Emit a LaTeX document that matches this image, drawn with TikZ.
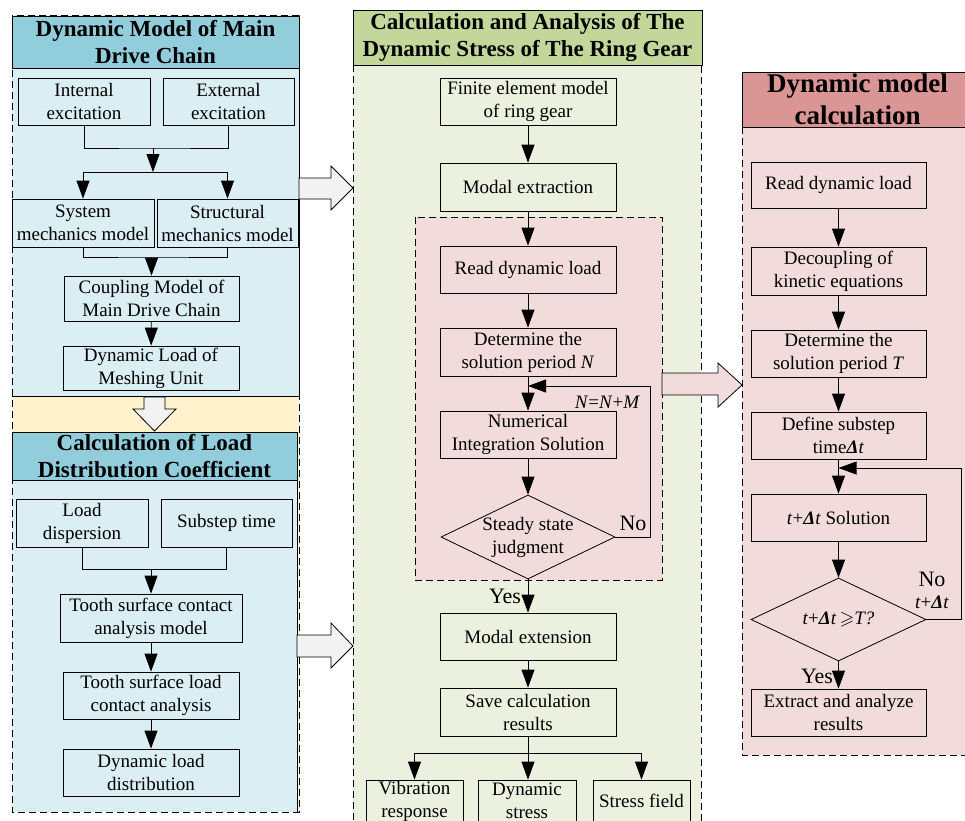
\documentclass[tikz,border=0pt]{standalone}
\usepackage{fontspec}
\setmainfont{Liberation Serif}
\usepackage{amssymb}
\usetikzlibrary{shapes.geometric,arrows.meta}
\definecolor{blueBg}{HTML}{DAEEF3}
\definecolor{blueTitle}{HTML}{92CDDC}
\definecolor{yellowBg}{HTML}{FFF2CC}
\definecolor{greenBg}{HTML}{EBF1DE}
\definecolor{greenTitle}{HTML}{C4D79B}
\definecolor{pinkBg}{HTML}{F2DCDB}
\definecolor{pinkTitle}{HTML}{DA9694}
\definecolor{arrowGray}{HTML}{F2F2F2}
\newcommand{\dlt}{\textbf{\textit{Δ}}}
\begin{document}
\begin{tikzpicture}[x=1pt,y=-1pt,
  box/.style={draw=black, line width=0.8pt, align=center, inner sep=0pt, font=\fontsize{19}{23}\selectfont},
  dia/.style={draw=black, line width=0.8pt, shape=diamond, inner sep=0pt},
  arr/.style={line width=0.8pt, -{Triangle[length=18pt,width=13pt]}},
  ln/.style={line width=0.8pt},
  ttl/.style={draw=black, line width=0.8pt, align=center, inner sep=0pt, font=\bfseries\fontsize{23}{27}\selectfont},
  dsh/.style={dash pattern=on 7pt off 4pt, line width=0.8pt},
  lbl/.style={font=\fontsize{22}{26}\selectfont, inner sep=0pt},
  txt/.style={align=center, inner sep=0pt, font=\fontsize{19}{23}\selectfont},
  blk/.style={line width=0.8pt, draw=black}
  ]
\useasboundingbox (0,0) rectangle (965,820);
\clip (0,0) rectangle (965,820);

% ---------------- left panel ----------------
\fill[yellowBg] (12,15) rectangle (299,812);
\fill[blueBg] (12,16) rectangle (299,396);
\draw[ln] (299,16) -- (299,396) -- (12,396);
\fill[blueBg] (12,480) rectangle (297,812);
\draw[ln] (297,480) -- (297,812);
\draw[dsh] (12,15) rectangle (299,812);
\node[ttl, fill=blueTitle, minimum width=287, minimum height=52] (t1) at (155.5,42) {Dynamic Model of Main\\Drive Chain};
\node[ttl, fill=blueTitle, minimum width=285, minimum height=48] (t2) at (154.5,456) {Calculation of Load\\Distribution Coefficient};

\node[box, fill=blueBg, minimum width=132, minimum height=47] (intexc) at (84,101.5) {Internal\\excitation};
\node[box, fill=blueBg, minimum width=131, minimum height=47] (extexc) at (228.5,101.5) {External\\excitation};
\node[box, fill=blueBg, minimum width=142, minimum height=48] (sysm) at (83,223) {System\\mechanics model};
\node[box, fill=blueBg, minimum width=141, minimum height=48] (strm) at (227.5,223) {Structural\\mechanics model};
\node[box, fill=blueBg, minimum width=175, minimum height=45] (coup) at (151.5,298.5) {Coupling Model of\\Main Drive Chain};
\node[box, fill=blueBg, minimum width=176, minimum height=44] (dynl) at (151,368) {Dynamic Load of\\Meshing Unit};
\node[box, fill=blueBg, minimum width=132, minimum height=48] (ldisp) at (82,523) {Load\\dispersion};
\node[box, fill=blueBg, minimum width=131, minimum height=48] (subst) at (226.5,523) {Substep time};
\node[box, fill=blueBg, minimum width=182, minimum height=48] (tsca) at (151,618) {Tooth surface contact\\analysis model};
\node[box, fill=blueBg, minimum width=176, minimum height=47] (tslca) at (151,695.5) {Tooth surface load\\contact analysis};
\node[box, fill=blueBg, minimum width=176, minimum height=47] (dld) at (151,772.5) {Dynamic load\\distribution};

\coordinate (j1) at (153,148);
\coordinate (j2) at (153,172);
\coordinate (j3) at (151.5,257);
\coordinate (j4) at (151,569);
\draw[ln] (intexc.south) |- (j1) -| (extexc.south);
\draw[arr] (j1) -- (j2);
\draw[arr] (j2) -| (sysm.north);
\draw[arr] (j2) -| (strm.north);
\draw[ln] (sysm.south) |- (j3) -| (strm.south);
\draw[arr] (j3) -- (coup.north);
\draw[arr] (coup) -- (dynl);
\draw[ln] (ldisp.south) |- (j4) -| (subst.south);
\draw[arr] (j4) -- (tsca.north);
\draw[arr] (tsca) -- (tslca);
\draw[arr] (tslca) -- (dld);

% block arrow in yellow band
\draw[blk, fill=arrowGray] (144,397) -- (165,397) -- (165,409) -- (176,409) -- (154.5,431) -- (133,409) -- (144,409) -- cycle;

% ---------------- middle panel ----------------
\fill[greenBg] (353,10) rectangle (701,830);
\draw[dsh] (353,10) rectangle (701,830);
\node[ttl, fill=greenTitle, minimum width=349, minimum height=55] (t3) at (527.5,37.5) {Calculation and Analysis of The\\Dynamic Stress of The Ring Gear};
\draw[dsh, fill=pinkBg] (415,217) rectangle (662,580);

\node[box, fill=greenBg, minimum width=176, minimum height=47] (fem) at (528,101.5) {Finite element model\\of ring gear};
\node[box, fill=greenBg, minimum width=176, minimum height=48] (modx) at (528,187) {Modal extraction};
\node[box, fill=pinkBg, minimum width=176, minimum height=47] (rdl) at (528,269.5) {Read dynamic load};
\node[box, fill=pinkBg, minimum width=176, minimum height=48] (detN) at (528,352) {Determine the\\solution period \textit{N}};
\node[box, fill=pinkBg, minimum width=176, minimum height=47] (numi) at (528,434.5) {Numerical\\Integration Solution};
\node[dia, fill=pinkBg, minimum width=174, minimum height=84] (steady) at (528,537) {};
\node[txt] (steadyt) at (528,537) {Steady state\\judgment};
\node[box, fill=greenBg, minimum width=176, minimum height=47] (mode) at (528,636.5) {Modal extension};
\node[box, fill=greenBg, minimum width=176, minimum height=48] (save) at (528,712) {Save calculation\\results};
\node[box, fill=greenBg, minimum width=97, minimum height=42] (vib) at (414.5,801) {Vibration\\response};
\node[box, fill=greenBg, minimum width=98, minimum height=42] (dyns) at (527,801) {Dynamic\\stress};
\node[box, fill=greenBg, minimum width=97, minimum height=42] (sf) at (641.5,801) {Stress field};

\coordinate (jN) at (528,386);
\coordinate (jS) at (528,753);
\draw[arr] (fem) -- (modx);
\draw[arr] (modx) -- (rdl);
\draw[arr] (rdl) -- (detN);
\draw[arr] (detN) -- (numi);
\draw[arr] (numi) -- (steady.north);
\draw[arr] (steady.east) -- ++(35,0) |- (jN);
\draw[arr] (steady.south) -- (mode.north);
\draw[arr] (mode) -- (save);
\draw[ln] (save.south) -- (jS);
\draw[arr] (jS) -| (vib.north);
\draw[arr] (jS) -- (jS |- dyns.north);
\draw[arr] (jS) -| (sf.north);
\node[txt, font=\itshape\fontsize{19}{23}\selectfont] (nlab) at (607,402) {N\textup{=}N\textup{+}M};
\node[lbl] (nolab) at (633,523) {No};
\node[lbl] (yeslab) at (505,596) {Yes};

% block arrows left -> middle
\draw[blk, fill=arrowGray] (299,178) -- (331,178) -- (331,166) -- (353,188) -- (331,210) -- (331,199) -- (299,199) -- cycle;
\draw[blk, fill=arrowGray] (297,635) -- (331,635) -- (331,623) -- (353,646) -- (331,668) -- (331,657) -- (297,657) -- cycle;
% block arrow middle -> right
\draw[blk, fill=pinkBg] (662,373) -- (718,373) -- (718,363) -- (742,385) -- (718,407) -- (718,395) -- (662,395) -- cycle;

% ---------------- right panel ----------------
\draw[dsh, fill=pinkBg] (742,72) rectangle (985,755);
\node[draw=black, line width=0.8pt, fill=pinkTitle, minimum width=231, minimum height=55, align=center, inner sep=0pt, font=\bfseries\fontsize{27}{32}\selectfont] (t4) at (857.5,99.5) {Dynamic model\\calculation};

\node[box, fill=pinkBg, minimum width=175, minimum height=46] (rdl2) at (838.5,185) {Read dynamic load};
\node[box, fill=pinkBg, minimum width=175, minimum height=48] (dec) at (838.5,271) {Decoupling of\\kinetic equations};
\node[box, fill=pinkBg, minimum width=175, minimum height=47] (detT) at (838.5,353.5) {Determine the\\solution period \textit{T}};
\node[box, fill=pinkBg, minimum width=175, minimum height=47] (defdt) at (838.5,435.5) {Define substep\\time\dlt\textit{t}};
\node[box, fill=pinkBg, minimum width=175, minimum height=47] (tsol) at (838.5,517.5) {\textit{t}+\dlt\textit{t} Solution};
\node[dia, fill=pinkBg, minimum width=175, minimum height=83] (cond) at (838.5,619.5) {};
\node[txt] (condt) at (838.5,619.5) {\textit{t}+\dlt\textit{t}\,$\geqslant$\textit{T?}};
\node[box, fill=pinkBg, minimum width=175, minimum height=47] (extr) at (838.5,712.5) {Extract and analyze\\results};

\coordinate (jT) at (838.5,468);
\draw[arr] (rdl2) -- (dec);
\draw[arr] (dec) -- (detT);
\draw[arr] (detT) -- (defdt);
\draw[arr] (defdt) -- (tsol);
\draw[arr] (tsol) -- (cond.north);
\draw[arr] (cond.east) -- ++(35,0) |- (jT);
\draw[arr] (cond.south) -- (extr.north);
\node[lbl] (nolab2) at (932,579) {No};
\node[txt] (dtlab) at (932,602) {\textit{t}+\dlt\textit{t}};
\node[lbl] (yeslab2) at (817,676) {Yes};
\end{tikzpicture}
\end{document}
